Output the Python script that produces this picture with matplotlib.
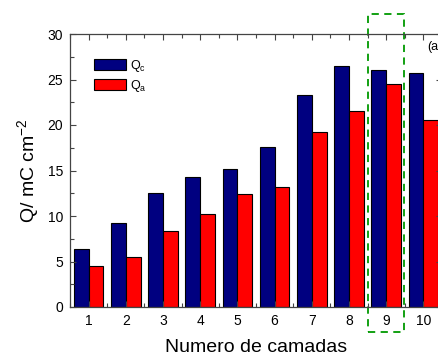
import numpy as np
import matplotlib
matplotlib.use("Agg")
import matplotlib.pyplot as plt
from matplotlib.patches import Rectangle

plt.rcParams['font.family'] = ['Liberation Sans', 'DejaVu Sans']

# data
camadas = [1, 2, 3, 4, 5, 6, 7, 8, 9, 10]
q_c = [6.4, 9.2, 12.5, 14.3, 15.2, 17.6, 23.3, 26.5, 26.0, 25.7]
q_a = [4.5, 5.5, 8.3, 10.2, 12.4, 13.2, 19.2, 21.5, 24.5, 20.5]
y_ticks = [0, 5, 10, 15, 20, 25, 30]

W, H = 438, 359
fig = plt.figure(figsize=(W / 100, H / 100), dpi=100)
# axes runs past the right edge, as in the cropped original
ax = fig.add_axes([70 / W, 1 - 307 / H, 372 / W, 273 / H])

x = np.array(camadas)
bw = 0.4
ax.bar(x - bw / 2, q_c, bw, color='#000080', edgecolor='black', linewidth=0.8,
       label=r'Q$_\mathregular{c}$')
ax.bar(x + bw / 2, q_a, bw, color='#ff0000', edgecolor='black', linewidth=0.8,
       label=r'Q$_\mathregular{a}$')

ax.set_xlim(0.5, 10.5)
ax.set_ylim(0, 30)
ax.set_xticks(camadas)
ax.set_xticks(np.arange(0.5, 11, 1.0), minor=True)
ax.set_yticks(y_ticks)
ax.set_yticks(np.arange(2.5, 30, 5), minor=True)
ax.tick_params(which='both', direction='in', top=True, right=True,
               labelsize=10, width=0.8, color='#444444')
ax.tick_params(which='major', length=4, pad=5)
ax.tick_params(which='minor', length=3)
for s in ax.spines.values():
    s.set_color('#444444')
    s.set_linewidth(0.9)

ax.set_xlabel('Numero de camadas', fontsize=14, labelpad=8)
ax.set_ylabel(r'Q/ mC cm$^{\mathregular{-2}}$', fontsize=14, labelpad=4)

ax.legend(loc='upper left', bbox_to_anchor=(0.05, 0.93), frameon=False,
          fontsize=9, handlelength=2.6, handleheight=1.0,
          handletextpad=0.3, labelspacing=0.3, borderaxespad=0)

# label is cut by the right edge in the original too
ax.text(10.1, 28.2, '(a)', fontsize=9)

# dashed box around layer 9
ax.add_patch(Rectangle((8.52, -2.75), 0.96, 35.0, fill=False,
                       edgecolor='#009900', linestyle=(0, (4, 3)),
                       linewidth=1.3, clip_on=False))

fig.savefig('out.png', dpi=100)
